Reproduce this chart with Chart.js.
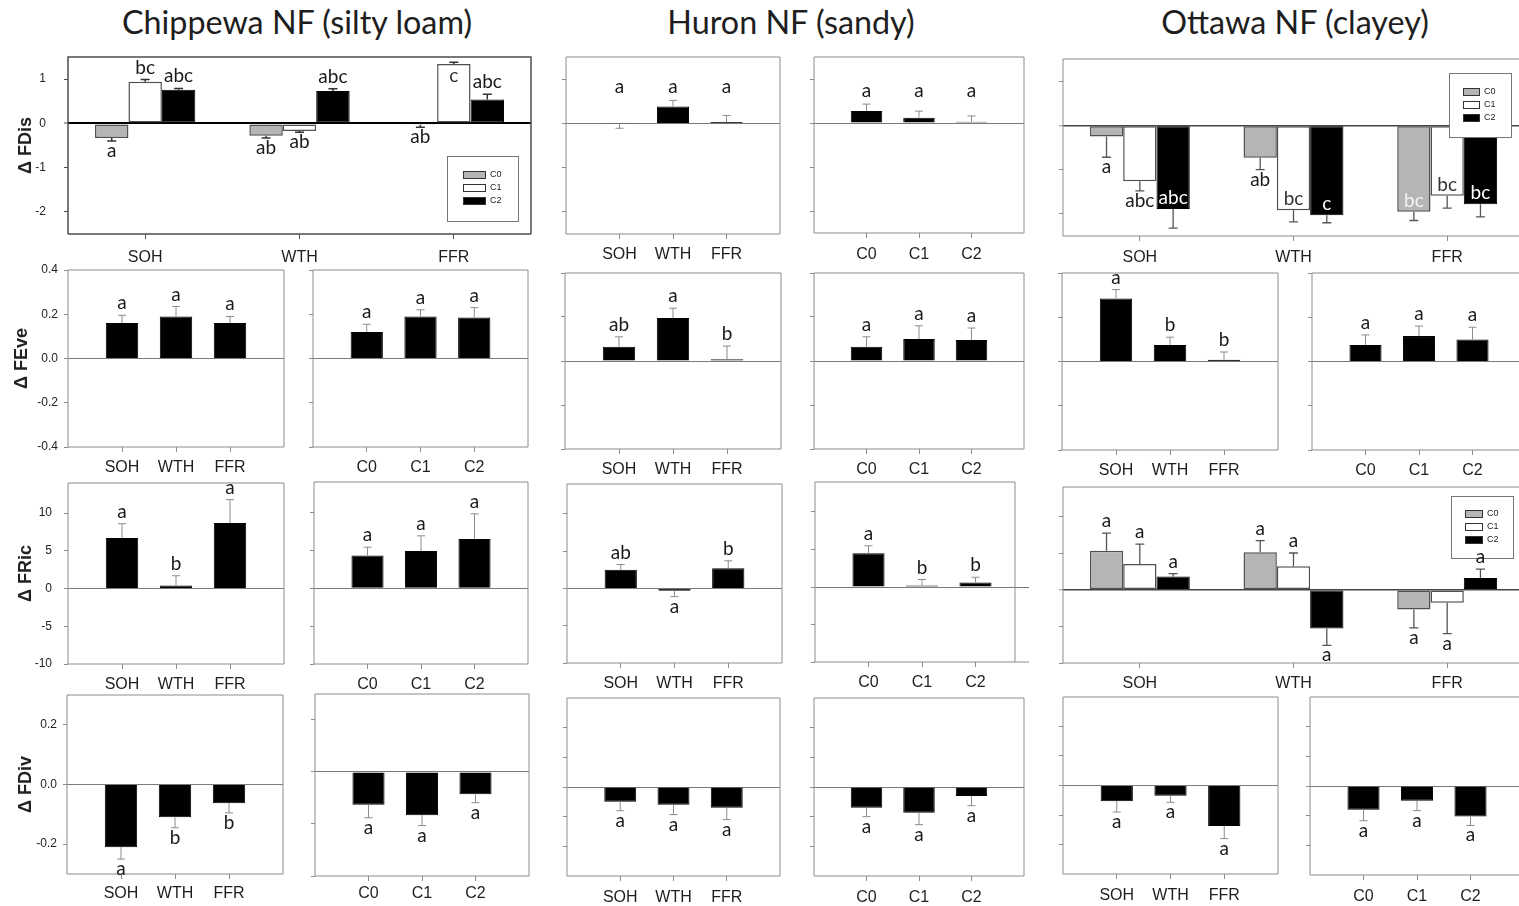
<!DOCTYPE html>
<html>
<head>
<meta charset="utf-8">
<title>Functional diversity responses</title>
<script src="https://cdn.jsdelivr.net/npm/chart.js@4.4.1/dist/chart.umd.min.js"></script>
<style>
  html, body { margin: 0; padding: 0; background: #ffffff; width: 1519px; height: 906px; overflow: hidden; position: relative; }
  .col-title { position: absolute; top: 3px; line-height: 38px; font-family: Lato, "Open Sans", sans-serif; font-size: 32.3px; color: #1e1e1e; white-space: nowrap; transform: translateX(-50%); }
</style>
</head>
<body>
<div class="col-title" style="left:297px">Chippewa NF (silty loam)</div>
<div class="col-title" style="left:791px">Huron NF (sandy)</div>
<div class="col-title" style="left:1295px">Ottawa NF (clayey)</div>
<script>
// ---------- categories and tick labels ----------
const TREATMENTS = ['SOH', 'WTH', 'FFR'];
const LEVELS = ['C0', 'C1', 'C2'];
const FDIS_TICKS = [-2, -1, 0, 1];
const FEVE_TICKS = [-0.4, -0.2, 0, 0.2, 0.4];
const FRIC_TICKS = [-10, -5, 0, 5, 10];
const FDIV_TICKS = [-0.2, -0.1, 0, 0.1, 0.2];
const FDIV_TICKS_MAJOR = [-0.2, 0, 0.2];
const FDIV_TICKS_SHORT = [-0.2, -0.1, 0, 0.1];

// ---------- Δ FDis ----------
const chipFDisC0 = [-0.33, -0.28, -0.03];
const chipFDisC0Se = [0.07, 0.05, 0.06];
const chipFDisC0Letters = ['a', 'ab', 'ab'];
const chipFDisC1 = [0.94, -0.17, 1.34];
const chipFDisC1Se = [0.05, 0.03, 0.04];
const chipFDisC1Letters = ['bc', 'ab', 'c'];
const chipFDisC2 = [0.76, 0.73, 0.54];
const chipFDisC2Se = [0.03, 0.05, 0.12];
const chipFDisC2Letters = ['abc', 'abc', 'abc'];
const chipFDisC1Place = ['out', 'out', 'in'];

const huronFDisTrt = [-0.01, 0.38, 0.03];
const huronFDisTrtSe = [0.10, 0.14, 0.15];
const huronFDisTrtLetters = ['a', 'a', 'a'];
const huronFDisLvl = [0.27, 0.12, 0.03];
const huronFDisLvlSe = [0.16, 0.15, 0.13];
const huronFDisLvlLetters = ['a', 'a', 'a'];

const ottFDisC0 = [-0.25, -0.73, -1.95];
const ottFDisC0Se = [0.47, 0.27, 0.20];
const ottFDisC0Letters = ['a', 'ab', 'bc'];
const ottFDisC0Place = ['out', 'out', 'in'];
const ottFDisC1 = [-1.26, -1.92, -1.59];
const ottFDisC1Se = [0.22, 0.26, 0.28];
const ottFDisC1Letters = ['abc', 'bc', 'bc'];
const ottFDisC1Place = ['out', 'in', 'in'];
const ottFDisC2 = [-1.89, -2.03, -1.78];
const ottFDisC2Se = [0.43, 0.17, 0.29];
const ottFDisC2Letters = ['abc', 'c', 'bc'];
const ottFDisC2Place = ['in', 'in', 'in'];

// ---------- Δ FEve ----------
const chipFEveTrt = [0.16, 0.19, 0.16];
const chipFEveTrtSe = [0.035, 0.045, 0.03];
const chipFEveTrtLetters = ['a', 'a', 'a'];
const chipFEveLvl = [0.12, 0.19, 0.185];
const chipFEveLvlSe = [0.035, 0.03, 0.045];
const chipFEveLvlLetters = ['a', 'a', 'a'];
const huronFEveTrt = [0.065, 0.195, 0.008];
const huronFEveTrtSe = [0.045, 0.045, 0.06];
const huronFEveTrtLetters = ['ab', 'a', 'b'];
const huronFEveLvl = [0.065, 0.10, 0.095];
const huronFEveLvlSe = [0.045, 0.06, 0.055];
const huronFEveLvlLetters = ['a', 'a', 'a'];
const ottFEveTrt = [0.285, 0.075, 0.008];
const ottFEveTrtSe = [0.04, 0.035, 0.035];
const ottFEveTrtLetters = ['a', 'b', 'b'];
const ottFEveLvl = [0.075, 0.115, 0.10];
const ottFEveLvlSe = [0.045, 0.045, 0.055];
const ottFEveLvlLetters = ['a', 'a', 'a'];

// ---------- Δ FRic ----------
const chipFRicTrt = [6.7, 0.4, 8.7];
const chipFRicTrtSe = [1.9, 1.3, 3.1];
const chipFRicTrtLetters = ['a', 'b', 'a'];
const chipFRicLvl = [4.3, 4.9, 6.5];
const chipFRicLvlSe = [1.1, 2.0, 3.3];
const chipFRicLvlLetters = ['a', 'a', 'a'];
const huronFRicTrt = [2.5, -0.3, 2.7];
const huronFRicTrtSe = [0.7, 0.8, 1.0];
const huronFRicTrtLetters = ['ab', 'a', 'b'];
const huronFRicLvl = [4.5, 0.2, 0.6];
const huronFRicLvlSe = [1.0, 0.8, 0.7];
const huronFRicLvlLetters = ['a', 'b', 'b'];
const ottFRicC0 = [5.3, 5.1, -2.7];
const ottFRicC0Se = [2.4, 1.6, 2.5];
const ottFRicC1 = [3.5, 3.2, -1.8];
const ottFRicC1Se = [2.7, 1.8, 4.2];
const ottFRicC2 = [1.8, -5.3, 1.6];
const ottFRicC2Se = [0.4, 2.3, 1.2];
const ottFRicLetters = ['a', 'a', 'a'];

// ---------- Δ FDiv ----------
const chipFDivTrt = [-0.21, -0.11, -0.063];
const chipFDivTrtSe = [0.04, 0.035, 0.032];
const chipFDivTrtLetters = ['a', 'b', 'b'];
const chipFDivLvl = [-0.063, -0.083, -0.043];
const chipFDivLvlSe = [0.025, 0.02, 0.016];
const chipFDivLvlLetters = ['a', 'a', 'a'];
const huronFDivTrt = [-0.05, -0.06, -0.07];
const huronFDivTrtSe = [0.03, 0.033, 0.04];
const huronFDivTrtLetters = ['a', 'a', 'a'];
const huronFDivLvl = [-0.07, -0.087, -0.03];
const huronFDivLvlSe = [0.03, 0.04, 0.033];
const huronFDivLvlLetters = ['a', 'a', 'a'];
const ottFDivTrt = [-0.053, -0.035, -0.137];
const ottFDivTrtSe = [0.037, 0.022, 0.043];
const ottFDivTrtLetters = ['a', 'a', 'a'];
const ottFDivLvl = [-0.08, -0.05, -0.103];
const ottFDivLvlSe = [0.037, 0.033, 0.03];
const ottFDivLvlLetters = ['a', 'a', 'a'];

// ---------- drawing helpers ----------
const FONT_TICK = "'Liberation Sans', Arial, sans-serif";
const FONT_LETTER = "Lato, 'Open Sans', sans-serif";
const LEVEL_FILL = { C0: '#b5b5b5', C1: '#ffffff', C2: '#000000' };
const LEVEL_EDGE = { C0: '#505050', C1: '#505050', C2: '#000000' };
const LEVEL_INK = { C0: '#f4f4f4', C1: '#333333', C2: '#ffffff' };

const STYLE_PLAIN = { frame: '#8c8c8c', frameW: 1, zero: '#7a7a7a', zeroW: 1, err: '#8c8c8c', errW: 1, cap: 8 };
const STYLE_DARK = { frame: '#4d4d4d', frameW: 1.5, zero: '#000000', zeroW: 2, err: '#333333', errW: 1.5, cap: 9 };
const STYLE_GROUP = { frame: '#8c8c8c', frameW: 1, zero: '#444444', zeroW: 1.5, err: '#555555', errW: 1.3, cap: 9 };

const fmtInt = v => String(v);
const fmtDec = v => v.toFixed(1);
const AX_FDIS = { min: -2.5, max: 1.5, ticks: FDIS_TICKS, fmt: fmtInt };
const AX_FEVE = { min: -0.4, max: 0.4, ticks: FEVE_TICKS, fmt: fmtDec };
const AX_FRIC = { min: -10, max: 14, ticks: FRIC_TICKS, fmt: fmtInt };
const AX_FDIV = { min: -0.3, max: 0.3, ticks: FDIV_TICKS, fmt: fmtDec };
const AX_FDIV_MAJOR = { min: -0.3, max: 0.3, ticks: FDIV_TICKS_MAJOR, fmt: fmtDec };
const AX_FDIV_SHORT = { min: -0.2, max: 0.15, ticks: FDIV_TICKS_SHORT, fmt: fmtDec };

const pad = arr => [null, ...arr, null];

// one black bar per category, categories sit on inner positions of a 0–4 axis
function single(cats, values, errors, letters) {
  return {
    labels: pad(cats).map(c => c || ''),
    datasets: [{
      data: pad(values), errors: pad(errors), letters: pad(letters),
      backgroundColor: '#000000', borderColor: '#000000', borderWidth: 1,
      categoryPercentage: 0.6, barPercentage: 1.0
    }]
  };
}

// three cutting levels per treatment
function grouped(cats, series) {
  return {
    labels: cats,
    datasets: series.map(s => ({
      label: s.name, data: s.values, errors: s.errors, letters: s.letters,
      places: s.places || null, letterInk: LEVEL_INK[s.name],
      backgroundColor: LEVEL_FILL[s.name], borderColor: LEVEL_EDGE[s.name],
      borderWidth: s.name === 'C2' ? 1 : 1.5, borderSkipped: false,
      categoryPercentage: 0.65, barPercentage: 1.0
    }))
  };
}

// in-plot key for the cutting levels
function drawKey(chart, k) {
  const a = chart.chartArea, ctx = chart.ctx;
  const x0 = Math.round(a.right - k.right - k.w);
  const y0 = Math.round(k.anchor === 'top' ? a.top + k.offset : a.bottom - k.offset - k.h);
  ctx.save();
  ctx.fillStyle = '#ffffff'; ctx.fillRect(x0, y0, k.w, k.h);
  ctx.strokeStyle = '#777777'; ctx.lineWidth = 1; ctx.strokeRect(x0 + 0.5, y0 + 0.5, k.w, k.h);
  ctx.font = '9px ' + FONT_TICK; ctx.textBaseline = 'middle'; ctx.textAlign = 'left';
  chart.data.datasets.forEach((ds, i) => {
    const cy = y0 + k.first + i * k.step;
    ctx.fillStyle = ds.backgroundColor; ctx.fillRect(x0 + k.sx, cy - 4, k.sw, 8);
    ctx.strokeStyle = '#333333'; ctx.strokeRect(x0 + k.sx + 0.5, cy - 3.5, k.sw - 1, 7);
    ctx.fillStyle = '#222222'; ctx.fillText(ds.label, x0 + k.sx + k.sw + 4, cy);
  });
  ctx.restore();
}

// frame, key, error bars and significance letters
const barDecor = {
  id: 'barDecor',
  beforeDatasetsDraw(chart, args, o) {
    const a = chart.chartArea, ctx = chart.ctx;
    const r = a.right - (o.frameRightInset || 0);
    ctx.save();
    ctx.strokeStyle = o.frameColor; ctx.lineWidth = o.frameWidth;
    ctx.beginPath();
    ctx.moveTo(a.left, a.bottom); ctx.lineTo(a.right, a.bottom);
    ctx.moveTo(a.left, a.bottom); ctx.lineTo(a.left, a.top); ctx.lineTo(r, a.top); ctx.lineTo(r, a.bottom);
    ctx.stroke();
    ctx.restore();
  },
  afterDatasetsDraw(chart, args, o) {
    if (o.key) drawKey(chart, o.key);
    const ctx = chart.ctx, ys = chart.scales.y;
    ctx.save();
    ctx.font = o.letterSize + 'px ' + FONT_LETTER;
    const xH = ctx.measureText('x').actualBoundingBoxAscent;
    const marks = [];
    chart.data.datasets.forEach((ds, i) => {
      chart.getDatasetMeta(i).data.forEach((bar, j) => {
        const v = ds.data[j];
        if (v === null || v === undefined) return;
        const dir = v < 0 ? -1 : 1;
        marks.push({
          x: bar.x, dir,
          yEnd: ys.getPixelForValue(v),
          yErr: ys.getPixelForValue(v + dir * ds.errors[j]),
          text: ds.letters[j],
          place: ds.places ? ds.places[j] : 'out',
          ink: ds.letterInk || '#1a1a1a'
        });
      });
    });
    ctx.strokeStyle = o.errColor; ctx.lineWidth = o.errWidth;
    marks.forEach(m => {
      ctx.beginPath();
      ctx.moveTo(m.x, m.yEnd); ctx.lineTo(m.x, m.yErr);
      ctx.moveTo(m.x - o.cap / 2, m.yErr); ctx.lineTo(m.x + o.cap / 2, m.yErr);
      ctx.stroke();
    });
    let common = null;
    if (o.alignLetters) {
      common = Math.min(...marks.filter(m => m.dir > 0).map(m => m.yErr)) - 7;
    }
    ctx.textAlign = 'center'; ctx.textBaseline = 'alphabetic';
    marks.forEach(m => {
      let y, color = '#1a1a1a';
      if (m.place === 'in') {
        color = m.ink;
        y = m.dir > 0 ? m.yEnd + 8 + xH : m.yEnd - 5;
      } else if (common !== null) {
        y = common;
      } else {
        y = m.dir > 0 ? m.yErr - 6 : m.yErr + 6 + xH;
      }
      ctx.fillStyle = color;
      ctx.fillText(m.text, m.x, y);
    });
    ctx.restore();
  }
};

function panel(p) {
  const [L, T, R, B] = p.area;
  const yw = p.yw || 10, pt = 32, pr = 10, xh = 38;
  const w = R - L + yw + pr, h = B - T + pt + xh;
  const canvas = document.createElement('canvas');
  canvas.width = w; canvas.height = h;
  canvas.style.cssText = `position:absolute;left:${L - yw}px;top:${T - pt}px;width:${w}px;height:${h}px;`;
  document.body.appendChild(canvas);
  const st = p.style || STYLE_PLAIN;
  const ax = p.axis;
  const labelled = !!p.yTitle;
  const labels = p.data.labels;
  new Chart(canvas, {
    type: 'bar',
    data: p.data,
    plugins: [barDecor],
    options: {
      responsive: false, animation: false, devicePixelRatio: 1,
      layout: { padding: { top: pt, right: pr, left: 0, bottom: 0 } },
      plugins: {
        legend: { display: false },
        tooltip: { enabled: false },
        barDecor: {
          frameColor: st.frame, frameWidth: st.frameW, frameRightInset: p.frameRightInset || 0,
          errColor: st.err, errWidth: st.errW, cap: st.cap,
          letterSize: 19, alignLetters: !!p.alignLetters, key: p.key || null
        }
      },
      scales: {
        x: {
          type: 'category', offset: !!p.groupedAxis,
          grid: {
            offset: false, drawOnChartArea: false, drawTicks: true, tickLength: 5, tickWidth: 1,
            tickColor: c => (labels[c.index] ? st.frame : 'rgba(0,0,0,0)')
          },
          border: { display: false },
          ticks: { font: { family: FONT_TICK, size: 16 }, color: '#1e1e1e', padding: p.xPad, maxRotation: 0, autoSkip: false },
          afterFit: s => { s.height = xh; }
        },
        y: {
          min: ax.min, max: ax.max,
          afterBuildTicks: s => { s.ticks = ax.ticks.map(v => ({ value: v })); },
          ticks: {
            callback: v => (labelled ? ax.fmt(v) : ''),
            font: { family: FONT_TICK, size: 12 }, color: '#222222', padding: p.yPad || 3, autoSkip: false
          },
          grid: {
            drawOnChartArea: true, drawTicks: true, tickLength: 4, tickWidth: 1, tickColor: st.frame,
            color: c => (c.tick && c.tick.value === 0 ? st.zero : 'rgba(0,0,0,0)'),
            lineWidth: c => (c.tick && c.tick.value === 0 ? st.zeroW : 1)
          },
          border: { display: false },
          title: labelled ? {
            display: true, text: p.yTitle, color: '#222222',
            font: { family: FONT_TICK, size: 18, weight: 'bold' },
            padding: { top: p.titlePad, bottom: 0 }
          } : { display: false },
          afterFit: s => { s.width = yw; }
        }
      }
    }
  });
}

// ---------- row 1: Δ FDis ----------
panel({
  area: [68, 57, 531, 234], yw: 68, yPad: 18, yTitle: 'Δ FDis', titlePad: 15, xPad: 9,
  axis: AX_FDIS, style: STYLE_DARK, groupedAxis: true,
  key: { anchor: 'bottom', right: 13, offset: 13, w: 71, h: 65, sx: 16, sw: 23, first: 19, step: 13 },
  data: grouped(TREATMENTS, [
    { name: 'C0', values: chipFDisC0, errors: chipFDisC0Se, letters: chipFDisC0Letters },
    { name: 'C1', values: chipFDisC1, errors: chipFDisC1Se, letters: chipFDisC1Letters, places: chipFDisC1Place },
    { name: 'C2', values: chipFDisC2, errors: chipFDisC2Se, letters: chipFDisC2Letters }
  ])
});
panel({ area: [566, 57, 780, 234], axis: AX_FDIS, xPad: 6, alignLetters: true,
  data: single(TREATMENTS, huronFDisTrt, huronFDisTrtSe, huronFDisTrtLetters) });
panel({ area: [814, 57, 1024, 233], axis: AX_FDIS, xPad: 7, alignLetters: true,
  data: single(LEVELS, huronFDisLvl, huronFDisLvlSe, huronFDisLvlLetters) });
panel({
  area: [1063, 59, 1524, 236], axis: AX_FDIS, style: STYLE_GROUP, groupedAxis: true, xPad: 7,
  key: { anchor: 'top', right: 13, offset: 14, w: 62, h: 64, sx: 14, sw: 17, first: 19, step: 13 },
  data: grouped(TREATMENTS, [
    { name: 'C0', values: ottFDisC0, errors: ottFDisC0Se, letters: ottFDisC0Letters, places: ottFDisC0Place },
    { name: 'C1', values: ottFDisC1, errors: ottFDisC1Se, letters: ottFDisC1Letters, places: ottFDisC1Place },
    { name: 'C2', values: ottFDisC2, errors: ottFDisC2Se, letters: ottFDisC2Letters, places: ottFDisC2Place }
  ])
});

// ---------- row 2: Δ FEve ----------
panel({ area: [68, 270, 284, 447], yw: 68, yPad: 6, yTitle: 'Δ FEve', titlePad: 11, axis: AX_FEVE, xPad: 6,
  data: single(TREATMENTS, chipFEveTrt, chipFEveTrtSe, chipFEveTrtLetters) });
panel({ area: [313, 270, 528, 447], axis: AX_FEVE, xPad: 6,
  data: single(LEVELS, chipFEveLvl, chipFEveLvlSe, chipFEveLvlLetters) });
panel({ area: [565, 273, 781, 449], axis: AX_FEVE, xPad: 6,
  data: single(TREATMENTS, huronFEveTrt, huronFEveTrtSe, huronFEveTrtLetters) });
panel({ area: [814, 273, 1024, 449], axis: AX_FEVE, xPad: 6,
  data: single(LEVELS, huronFEveLvl, huronFEveLvlSe, huronFEveLvlLetters) });
panel({ area: [1062, 273, 1278, 450], axis: AX_FEVE, xPad: 6,
  data: single(TREATMENTS, ottFEveTrt, ottFEveTrtSe, ottFEveTrtLetters) });
panel({ area: [1312, 273, 1526, 450], axis: AX_FEVE, xPad: 6,
  data: single(LEVELS, ottFEveLvl, ottFEveLvlSe, ottFEveLvlLetters) });

// ---------- row 3: Δ FRic ----------
panel({ area: [68, 483, 284, 664], yw: 68, yPad: 12, yTitle: 'Δ FRic', titlePad: 15, axis: AX_FRIC, xPad: 6,
  data: single(TREATMENTS, chipFRicTrt, chipFRicTrtSe, chipFRicTrtLetters) });
panel({ area: [314, 482, 528, 664], axis: AX_FRIC, xPad: 6,
  data: single(LEVELS, chipFRicLvl, chipFRicLvlSe, chipFRicLvlLetters) });
panel({ area: [567, 484, 782, 663], axis: AX_FRIC, xPad: 6,
  data: single(TREATMENTS, huronFRicTrt, huronFRicTrtSe, huronFRicTrtLetters) });
panel({ area: [815, 482, 1029, 662], axis: AX_FRIC, xPad: 6, frameRightInset: 14,
  data: single(LEVELS, huronFRicLvl, huronFRicLvlSe, huronFRicLvlLetters) });
panel({
  area: [1063, 487, 1524, 663], axis: AX_FRIC, style: STYLE_GROUP, groupedAxis: true, xPad: 6,
  key: { anchor: 'top', right: 11, offset: 9, w: 62, h: 62, sx: 14, sw: 18, first: 18, step: 13 },
  data: grouped(TREATMENTS, [
    { name: 'C0', values: ottFRicC0, errors: ottFRicC0Se, letters: ottFRicLetters },
    { name: 'C1', values: ottFRicC1, errors: ottFRicC1Se, letters: ottFRicLetters },
    { name: 'C2', values: ottFRicC2, errors: ottFRicC2Se, letters: ottFRicLetters }
  ])
});

// ---------- row 4: Δ FDiv ----------
panel({ area: [67, 695, 283, 874], yw: 67, yPad: 6, yTitle: 'Δ FDiv', titlePad: 15, axis: AX_FDIV_MAJOR, xPad: 5,
  data: single(TREATMENTS, chipFDivTrt, chipFDivTrtSe, chipFDivTrtLetters) });
panel({ area: [315, 694, 529, 876], axis: AX_FDIV_SHORT, xPad: 3,
  data: single(LEVELS, chipFDivLvl, chipFDivLvlSe, chipFDivLvlLetters) });
panel({ area: [567, 698, 780, 876], axis: AX_FDIV, xPad: 7,
  data: single(TREATMENTS, huronFDivTrt, huronFDivTrtSe, huronFDivTrtLetters) });
panel({ area: [814, 698, 1024, 876], axis: AX_FDIV, xPad: 7,
  data: single(LEVELS, huronFDivLvl, huronFDivLvlSe, huronFDivLvlLetters) });
panel({ area: [1063, 697, 1278, 874], axis: AX_FDIV, xPad: 7,
  data: single(TREATMENTS, ottFDivTrt, ottFDivTrtSe, ottFDivTrtLetters) });
panel({ area: [1310, 697, 1524, 875], axis: AX_FDIV, xPad: 7,
  data: single(LEVELS, ottFDivLvl, ottFDivLvlSe, ottFDivLvlLetters) });
</script>
</body>
</html>
